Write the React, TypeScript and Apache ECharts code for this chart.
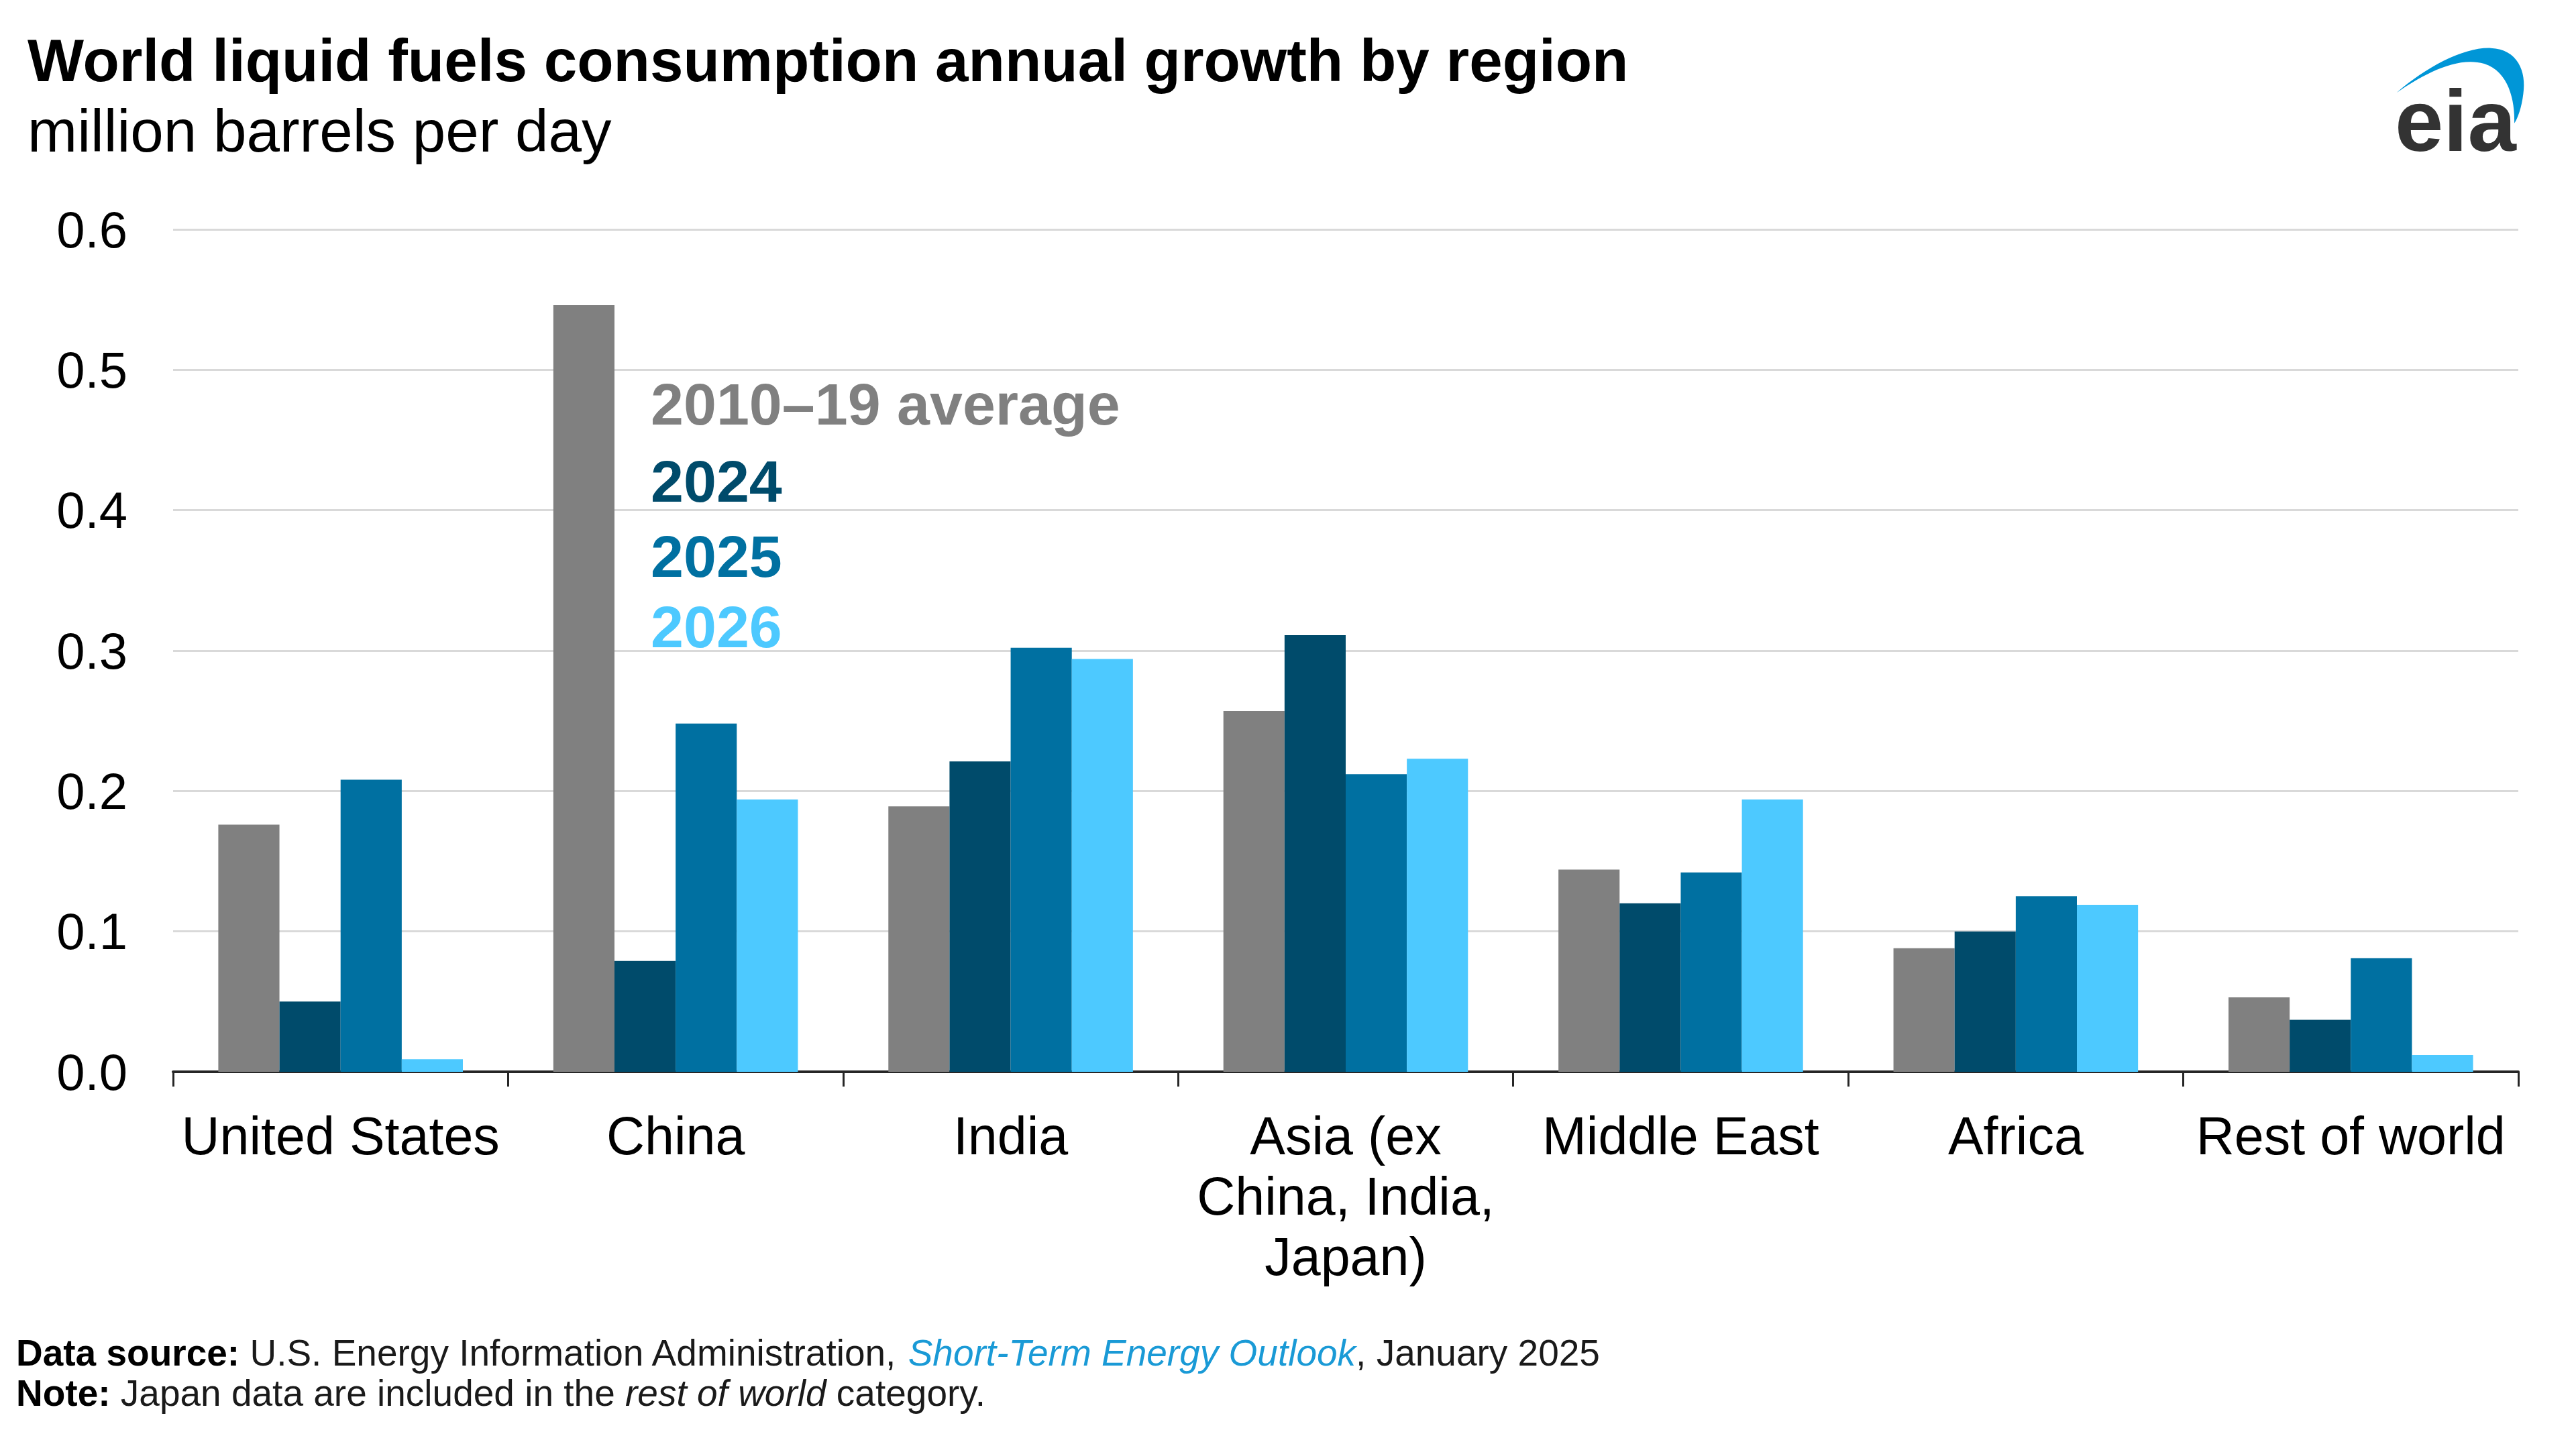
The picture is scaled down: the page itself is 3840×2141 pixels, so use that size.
import React, { useEffect, useRef } from 'react';
import * as echarts from 'echarts';

const categories = ['United States', 'China', 'India', 'Asia (ex\nChina, India,\nJapan)', 'Middle East', 'Africa', 'Rest of world'];
const seriesNames = ['2010–19 average', '2024', '2025', '2026'];
const avg2010to2019 = [0.176, 0.546, 0.189, 0.257, 0.144, 0.088, 0.053];
const growth2024 = [0.050, 0.079, 0.221, 0.311, 0.120, 0.100, 0.037];
const growth2025 = [0.208, 0.248, 0.302, 0.212, 0.142, 0.125, 0.081];
const growth2026 = [0.009, 0.194, 0.294, 0.223, 0.194, 0.119, 0.012];
const seriesValues = [avg2010to2019, growth2024, growth2025, growth2026];
const seriesColors = ['#808080', '#004B6B', '#0070A1', '#4DC9FF'];
const yMin = 0;
const yMax = 0.6;
const yStep = 0.1;

const titleText = 'World liquid fuels consumption annual growth by region';
const subtitleText = 'million barrels per day';

const SWOOSH_D =
  'M 218 295 C 350 180, 520 90, 640 95 C 760 100, 800 200, 785 300 C 778 360, 760 410, 745 432 C 748 330, 720 200, 610 165 C 480 130, 330 220, 218 295 Z';

let registered = false;
function ensureShape() {
  if (registered) return;
  registered = true;
  echarts.graphic.registerShape('eiaSwoosh', echarts.graphic.extendPath(SWOOSH_D, {}) as any);
}

const FONT = "'Liberation Sans', Arial, sans-serif";
const FOOT_FONT = "'Liberation Sans', Arial, sans-serif";
const FOOT_SIZE = 55;

export default function App() {
  const ref = useRef<HTMLDivElement>(null);
  useEffect(() => {
    if (!ref.current) return;
    ensureShape();
    const chart = echarts.init(ref.current, undefined, { renderer: 'svg' });
    const legendCenters = [602, 717, 829, 934];
    const option: any = {
      animation: false,
      backgroundColor: '#ffffff',
      grid: { left: 258, right: 86, top: 342, bottom: 543, containLabel: false },
      xAxis: {
        type: 'category',
        data: categories,
        boundaryGap: true,
        axisLine: { show: true, lineStyle: { color: '#262626', width: 4 } },
        axisTick: { show: true, length: 22, alignWithLabel: false, lineStyle: { color: '#262626', width: 3 } },
        axisLabel: {
          interval: 0,
          margin: 50,
          fontFamily: FONT,
          fontSize: 79,
          lineHeight: 90,
          color: '#000000',
        },
        splitLine: { show: false },
      },
      yAxis: {
        type: 'value',
        min: yMin,
        max: yMax,
        interval: yStep,
        axisLine: { show: false },
        axisTick: { show: false },
        axisLabel: {
          margin: 68,
          fontFamily: FONT,
          fontSize: 76,
          color: '#000000',
          formatter: (v: number) => v.toFixed(1),
        },
        splitLine: { show: true, lineStyle: { color: '#D9D9D9', width: 3 } },
      },
      series: seriesNames.map((name, i) => ({
        name,
        type: 'bar',
        data: seriesValues[i],
        barGap: '0%',
        barCategoryGap: '27%',
        itemStyle: { color: seriesColors[i] },
      })),
      graphic: [
        {
          type: 'text',
          left: 41,
          top: 45,
          style: { text: titleText, fontFamily: FONT, fontSize: 89, fontWeight: 'bold', fill: '#000000' },
        },
        {
          type: 'text',
          left: 41,
          top: 150,
          style: { text: subtitleText, fontFamily: FONT, fontSize: 89, fill: '#000000' },
        },
        ...seriesNames.map((name, i) => ({
          type: 'text',
          x: 970,
          y: legendCenters[i],
          style: {
            text: name,
            fontFamily: FONT,
            fontSize: 88,
            fontWeight: 'bold',
            fill: seriesColors[i],
            verticalAlign: 'middle',
            align: 'left',
          },
        })),
        {
          type: 'eiaSwoosh',
          x: 3500,
          y: 40,
          scaleX: 1 / 3,
          scaleY: 1 / 3,
          style: { fill: '#0096D7' },
        },
        {
          type: 'text',
          x: 3570,
          y: 180,
          style: {
            text: 'eia',
            fontFamily: FONT,
            fontSize: 130,
            fontWeight: 'bold',
            fill: '#333333',
            verticalAlign: 'middle',
            align: 'left',
          },
        },
        {
          type: 'text',
          x: 24,
          y: 2017,
          style: {
            text: '{b|Data source:} U.S. Energy Information Administration, {i|Short-Term Energy Outlook}, January 2025',
            fontFamily: FOOT_FONT,
            fontSize: FOOT_SIZE,
            fill: '#1a1a1a',
            verticalAlign: 'middle',
            rich: {
              b: { fontFamily: FOOT_FONT, fontSize: FOOT_SIZE, fontWeight: 'bold', fill: '#000000' },
              i: { fontFamily: FOOT_FONT, fontSize: FOOT_SIZE, fontStyle: 'italic', fill: '#1A9AD6' },
            },
          },
        },
        {
          type: 'text',
          x: 24,
          y: 2077,
          style: {
            text: '{b|Note:} Japan data are included in the {i|rest of world} category.',
            fontFamily: FOOT_FONT,
            fontSize: FOOT_SIZE,
            fill: '#1a1a1a',
            verticalAlign: 'middle',
            rich: {
              b: { fontFamily: FOOT_FONT, fontSize: FOOT_SIZE, fontWeight: 'bold', fill: '#000000' },
              i: { fontFamily: FOOT_FONT, fontSize: FOOT_SIZE, fontStyle: 'italic', fill: '#1a1a1a' },
            },
          },
        },
      ],
    };
    chart.setOption(option);
    return () => {
      chart.dispose();
    };
  }, []);
  return (
    <div
      ref={ref}
      style={{ position: 'fixed', left: 0, top: 0, width: '3840px', height: '2141px', background: '#ffffff' }}
    />
  );
}
